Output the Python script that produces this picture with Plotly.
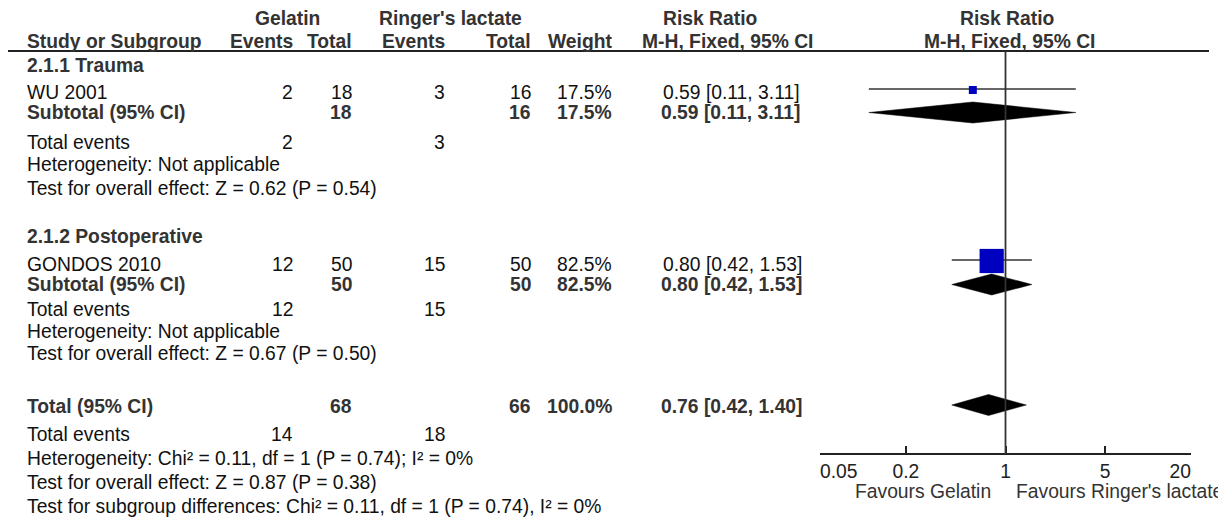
import plotly.graph_objects as go

W, H = 1226, 520
OX, OY = 8, 8  # page body offset compensation

# ---------------- data ----------------
subgroup_names = ["2.1.1 Trauma", "2.1.2 Postoperative"]
study_names = ["WU 2001", "GONDOS 2010"]
gel_events = [2, 12]
gel_total = [18, 50]
rl_events = [3, 15]
rl_total = [16, 50]
weights = [17.5, 82.5]
study_rr = [0.59, 0.80]
study_lo = [0.11, 0.42]
study_hi = [3.11, 1.53]
sub_rr = [0.59, 0.80]
sub_lo = [0.11, 0.42]
sub_hi = [3.11, 1.53]
sub_het = ["Heterogeneity: Not applicable", "Heterogeneity: Not applicable"]
sub_effect = ["Test for overall effect: Z = 0.62 (P = 0.54)",
              "Test for overall effect: Z = 0.67 (P = 0.50)"]
total_gel_total = 68
total_rl_total = 66
total_gel_events = 14
total_rl_events = 18
total_weight = 100.0
total_rr = [0.76]
total_lo = [0.42]
total_hi = [1.40]
total_het = "Heterogeneity: Chi² = 0.11, df = 1 (P = 0.74); I² = 0%"
total_effect = "Test for overall effect: Z = 0.87 (P = 0.38)"
subgroup_diff = "Test for subgroup differences: Chi² = 0.11, df = 1 (P = 0.74), I² = 0%"
tick_vals = [0.05, 0.2, 1, 5, 20]
tick_labels = ["0.05", "0.2", "1", "5", "20"]
favours_left = "Favours Gelatin"
favours_right = "Favours Ringer's lactate"

# ---------------- layout constants (reference pixels) ----------------
FONT = "Arial, Liberation Sans, sans-serif"
FS = 19.3
REG = "#111111"
BOLD = "#333333"
LINE = "#333333"

COL_NAME = 25
COL_GEV = 295
COL_GTOT = 354
COL_REV = 447
COL_RTOT = 533
COL_WT = 614
COL_CI = 661

blocks = [
    dict(head=65, study=92, mark=89, sub=112, events=142, het=164, eff=188),
    dict(head=236, study=264, mark=260, sub=284, events=309, het=331, eff=353),
]
TOT = dict(total=406, events=434, het=458, eff=482, diff=506)


def px(x):
    return (x - OX) / W


annotations = []


def txt(x, y, s, anchor="left", bold=False, color=None, size=FS):
    annotations.append(dict(
        x=px(x), y=y, xref="paper", yref="y", text=f"<b>{s}</b>" if bold else s,
        showarrow=False, xanchor=anchor, yanchor="middle",
        font=dict(family=FONT, size=size, color=color or (BOLD if bold else REG)),
    ))


# header
txt(287, 18, "Gelatin", "center", True)
txt(450, 18, "Ringer's lactate", "center", True)
txt(710, 18, "Risk Ratio", "center", True)
txt(1007, 18, "Risk Ratio", "center", True)
txt(COL_NAME, 41, "Study or Subgroup", "left", True)
txt(COL_GEV, 41, "Events", "right", True)
txt(COL_GTOT, 41, "Total", "right", True)
txt(COL_REV, 41, "Events", "right", True)
txt(COL_RTOT, 41, "Total", "right", True)
txt(COL_WT, 41, "Weight", "right", True)
txt(727, 41, "M-H, Fixed, 95% CI", "center", True)
txt(1009, 41, "M-H, Fixed, 95% CI", "center", True)

for i, b in enumerate(blocks):
    txt(COL_NAME, b["head"], subgroup_names[i], "left", True)
    txt(COL_NAME, b["study"], study_names[i])
    txt(COL_GEV, b["study"], str(gel_events[i]), "right")
    txt(COL_GTOT, b["study"], str(gel_total[i]), "right")
    txt(COL_REV, b["study"], str(rl_events[i]), "right")
    txt(COL_RTOT, b["study"], str(rl_total[i]), "right")
    txt(COL_WT, b["study"], f"{weights[i]:.1f}%", "right")
    txt(COL_CI, b["study"], f"{study_rr[i]:.2f} [{study_lo[i]:.2f}, {study_hi[i]:.2f}]")
    txt(COL_NAME, b["sub"], "Subtotal (95% CI)", "left", True)
    txt(COL_GTOT, b["sub"], str(gel_total[i]), "right", True)
    txt(COL_RTOT, b["sub"], str(rl_total[i]), "right", True)
    txt(COL_WT, b["sub"], f"{weights[i]:.1f}%", "right", True)
    txt(COL_CI - 2, b["sub"], f"{sub_rr[i]:.2f} [{sub_lo[i]:.2f}, {sub_hi[i]:.2f}]", "left", True)
    txt(COL_NAME, b["events"], "Total events")
    txt(COL_GEV, b["events"], str(gel_events[i]), "right")
    txt(COL_REV, b["events"], str(rl_events[i]), "right")
    txt(COL_NAME, b["het"], sub_het[i])
    txt(COL_NAME, b["eff"], sub_effect[i])

txt(COL_NAME, TOT["total"], "Total (95% CI)", "left", True)
txt(COL_GTOT, TOT["total"], str(total_gel_total), "right", True)
txt(COL_RTOT, TOT["total"], str(total_rl_total), "right", True)
txt(COL_WT, TOT["total"], f"{total_weight:.1f}%", "right", True)
txt(COL_CI - 2, TOT["total"], f"{total_rr[0]:.2f} [{total_lo[0]:.2f}, {total_hi[0]:.2f}]", "left", True)
txt(COL_NAME, TOT["events"], "Total events")
txt(COL_GEV, TOT["events"], str(total_gel_events), "right")
txt(COL_REV, TOT["events"], str(total_rl_events), "right")
txt(COL_NAME, TOT["het"], total_het)
txt(COL_NAME, TOT["eff"], total_effect)
txt(COL_NAME, TOT["diff"], subgroup_diff)

# favours labels under the axis
txt(993, 491, favours_left, "right", color="#333333")
txt(1014, 491, favours_right, "left", color="#333333")

fig = go.Figure()

for i, b in enumerate(blocks):
    fig.add_trace(go.Scatter(
        x=[study_lo[i], study_hi[i]], y=[b["mark"], b["mark"]], mode="lines",
        line=dict(color=LINE, width=1.6), hoverinfo="skip"))
    fig.add_trace(go.Scatter(
        x=[study_rr[i]], y=[b["mark"] + 1], mode="markers",
        marker=dict(symbol="square", size=3.6 + 0.25 * weights[i], color="#0000C0",
                    line=dict(width=0)),
        hovertemplate=f"{study_names[i]}<br>RR %{{x}}<extra></extra>"))


def diamond(est, lo, hi, yc, half=10.5):
    fig.add_trace(go.Scatter(
        x=[lo, est, hi, est, lo], y=[yc, yc - half, yc, yc + half, yc],
        mode="lines", fill="toself", fillcolor="#000000",
        line=dict(color="#000000", width=0.5), hoverinfo="skip"))


for i, b in enumerate(blocks):
    diamond(sub_rr[i], sub_lo[i], sub_hi[i], b["sub"] + 0.5)
diamond(total_rr[0], total_lo[0], total_hi[0], TOT["total"] - 1)

AXIS_Y = 454
shapes = [
    dict(type="line", xref="paper", yref="y", x0=0, x1=px(1209), y0=51, y1=51,
         line=dict(color="#222222", width=2)),
    dict(type="line", xref="x", yref="y", x0=1, x1=1, y0=51, y1=AXIS_Y,
         line=dict(color=LINE, width=1.8)),
]

pad_ticks = ["\u00a0" * 7 + tick_labels[0]] + tick_labels[1:-1] + [tick_labels[-1] + "\u00a0" * 4]

fig.update_layout(
    width=W, height=H,
    margin=dict(l=0, r=0, t=0, b=0, autoexpand=False),
    paper_bgcolor="white", plot_bgcolor="white",
    showlegend=False,
    annotations=annotations,
    shapes=shapes,
    xaxis=dict(
        type="log", range=[-1.30103, 1.30103],
        domain=[px(820), px(1191)],
        anchor="free", position=(H + OY - AXIS_Y) / H,
        showgrid=False, zeroline=False, automargin=False,
        showline=True, linecolor="#222222", linewidth=2,
        ticks="inside", ticklen=7, tickwidth=2, tickcolor="#222222",
        tickvals=tick_vals, ticktext=pad_ticks,
        tickfont=dict(family=FONT, size=FS, color="#222222"),
    ),
    yaxis=dict(range=[H + OY, OY], domain=[0, 1], visible=False, showgrid=False,
               zeroline=False, automargin=False),
)

fig.write_html("out.html")
